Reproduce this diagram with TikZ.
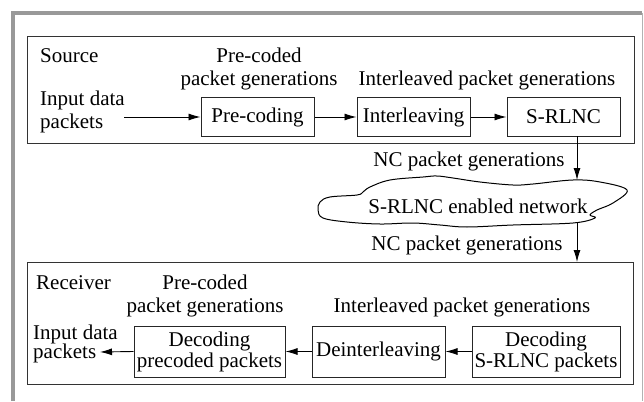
\documentclass[tikz,border=0pt]{standalone}
\usepackage{fontspec}
\setmainfont{Liberation Serif}
\newfontfamily\tnr{Liberation Serif}
\usetikzlibrary{arrows.meta,calc}
\begin{document}
\begin{tikzpicture}[x=1pt,y=-1pt,
  every node/.style={font=\tnr\fontsize{21}{21}\selectfont, inner sep=0pt, text=black},
  box/.style={draw=black!85, line width=1pt, align=center},
  frame/.style={draw=black!80, line width=1pt},
  arr/.style={draw=black, line width=0.9pt, -{Latex[length=12pt,width=7pt]}},
  lbl/.style={anchor=base},
  lbll/.style={anchor=base west}]
\useasboundingbox (0,0) rectangle (644,401);
% outer frame
\draw[draw=black!40, line width=4pt] (13,401) -- (13,13) -- (641.5,13);
\draw[draw=black!30, line width=1.2pt] (642.5,13) -- (642.5,401);
% Source
\draw[frame] (27,37) rectangle (634,143);
\node[lbll] (srcl) at (40,63) {Source};
\node[lbl] (pcl1) at (259,63) {Pre-coded};
\node[lbl] (pcl2) at (259,86) {packet generations};
\node[lbl] (ill) at (487,86) {Interleaved packet generations};
\node[lbll] (in1) at (40,106) {Input data};
\node[lbll] (in2) at (40,128) {packets};
\node[box, minimum width=113pt, minimum height=38pt] (pc) at (257.5,117) {Pre-coding};
\node[box, minimum width=113pt, minimum height=38pt] (il) at (413.5,117) {Interleaving};
\node[box, minimum width=113pt, minimum height=38pt] (sr) at (563.5,117) {S-RLNC};
\coordinate (inA) at (124,117);
\draw[arr] (inA) -- (pc.west);
\draw[arr] (pc.east) -- (il.west);
\draw[arr] (il.east) -- (sr.west);
% network
\coordinate (sA) at (577,136);
\coordinate (cTop) at (577,180);
\coordinate (cBot) at (577,223);
\coordinate (rTop) at (577,262);
\node[lbl] (nc1) at (469,166) {NC packet generations};
\draw[line width=1pt, draw=black] plot[smooth cycle, tension=0.6] coordinates {
 (330,197) (357,195) (363,192) (370,187) (390,180) (423,177) (437,176) (453,178)
 (480,182) (513,185) (533,184) (573,180) (600,182) (627,190) (613,203) (597,210)
 (590,215) (595,218) (573,223) (513,225) (467,227) (440,225) (413,223) (380,224)
 (347,222) (323,218) (318,210) (320,202)};
\node[lbl] (cloudl) at (478,213) {S-RLNC enabled network};
\node[lbl] (nc2) at (467,250) {NC packet generations};
\draw[arr] (sA) -- (cTop);
\draw[arr] (cBot) -- (rTop);
% Receiver
\draw[frame] (27,262) rectangle (633,384);
\node[lbll] (rcvl) at (36,289) {Receiver};
\node[lbl] (rpc1) at (205,289) {Pre-coded};
\node[lbl] (rpc2) at (205,312) {packet generations};
\node[lbl] (ril) at (462,312) {Interleaved packet generations};
\node[lbll] (out1) at (33,339) {Input data};
\node[lbll] (out2) at (33,358) {packets};
\node[box, minimum width=151pt, minimum height=51pt] (dp) at (209.5,351.5) {Decoding\\precoded packets};
\node[box, minimum width=133pt, minimum height=51pt] (di) at (378.5,351.5) {Deinterleaving};
\node[box, minimum width=148pt, minimum height=51pt] (ds) at (546,351.5) {Decoding\\S-RLNC packets};
\coordinate (outA) at (100,352);
\draw[arr] (ds.west) -- (di.east);
\draw[arr] (di.west) -- (dp.east);
\draw[arr] (dp.west) -- (outA);
\end{tikzpicture}
\end{document}
